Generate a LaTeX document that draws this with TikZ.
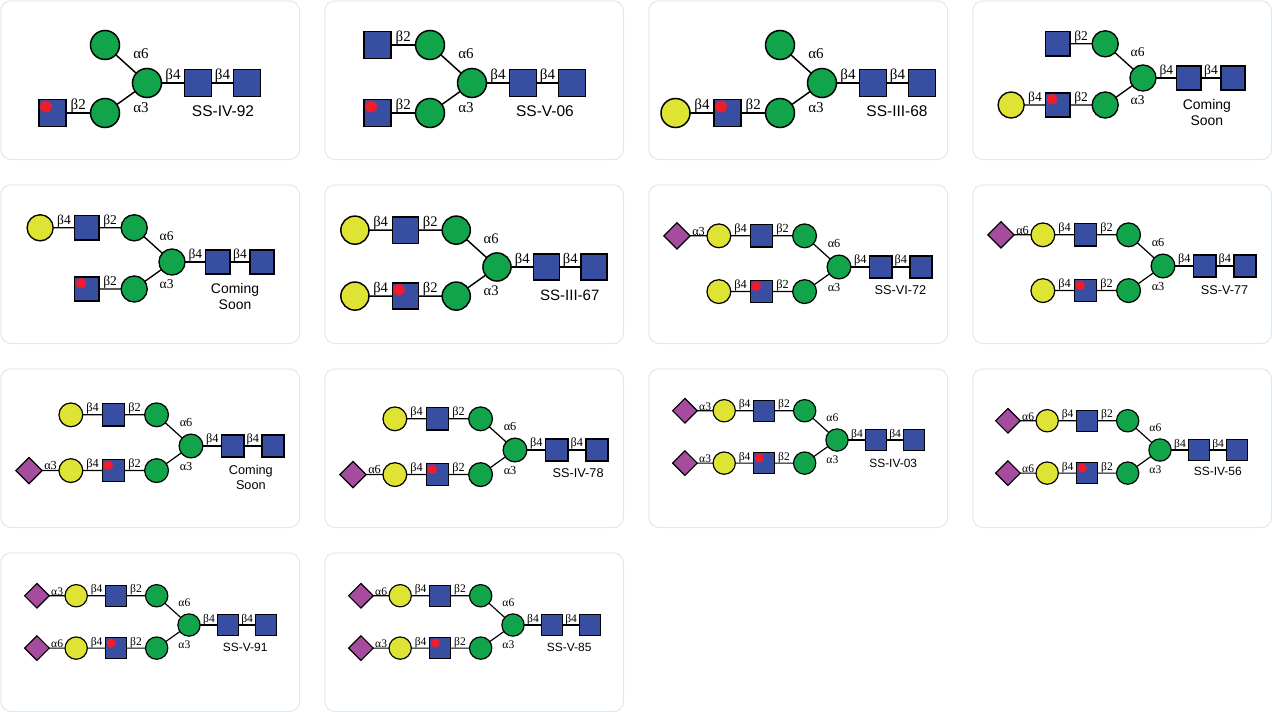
\documentclass[tikz,border=0pt]{standalone}
\usepackage{fontspec}
\setmainfont{Liberation Sans}
\newfontfamily\bondfont{Liberation Serif}
\usetikzlibrary{positioning, shapes.geometric}
\definecolor{mancol}{HTML}{11A44B}
\definecolor{nagcol}{HTML}{384EA0}
\definecolor{galcol}{HTML}{DFE333}
\definecolor{siacol}{HTML}{A54C9E}
\definecolor{dotcol}{HTML}{ED1C2E}
\definecolor{cardcol}{HTML}{E4E7EA}
\tikzset{
  card/.style = {draw=cardcol, line width=1pt, fill=white, rounded corners=10pt,
    minimum width=298.6pt, minimum height=158.6pt, anchor=north west, inner sep=0pt},
  sugar/.style = {inner sep=0pt, outer sep=0pt, draw=black},
  man/.style = {sugar, circle, fill=mancol, minimum size=29pt},
  gal/.style = {sugar, circle, fill=galcol, minimum size=29pt},
  nag/.style = {sugar, rectangle, fill=nagcol, minimum size=27pt},
  sia/.style = {sugar, diamond, fill=siacol, minimum size=32pt},
  reddot/.style = {circle, fill=dotcol, inner sep=0pt, minimum size=12pt},
  bondlab/.style = {inner sep=0pt, font=\bondfont\fontsize{15}{15}\selectfont},
  flatlab/.style = {bondlab, above=0pt},
  idtag/.style = {inner sep=0pt, align=center, font=\fontsize{15.5}{17.8}\selectfont},
  glycan/.style n args = {4}{shift={(#2,#3)}, scale=#4, transform shape,
    name prefix=#1, on grid, line width=#4*1.5pt}
}
\newcommand{\coreunit}{
  \node[man] (c) at (0,0) {};
  \node[nag, right=51pt of c] (r1) {};
  \node[nag, right=49pt of r1] (r2) {};
  \node[man] (um) at (-42,-38) {};
  \node[man] (lm) at (-42,30) {};
  \node[nag, left=52.5pt of lm] (ln) {};
  \node[reddot, above left=6.5pt and 6.5pt of ln] (ld) {};
  \draw (c) -- node[flatlab] (lr1) {β4} (r1);
  \draw (r1) -- node[flatlab] (lr2) {β4} (r2);
  \draw (um) -- node[bondlab, xshift=15pt, yshift=10pt] (lum) {α6} (c);
  \draw (lm) -- node[bondlab, xshift=15pt, yshift=-10pt] (llm) {α3} (c);
  \draw (lm) -- node[flatlab] (lln) {β2} (ln);
}
\newcommand{\addnag}[2]{
  \node[nag, left=52.5pt of #1] (#2) {};
  \draw (#1) -- node[flatlab] (l#2) {β2} (#2);
}
\newcommand{\addgal}[2]{
  \node[gal, left=52pt of #1] (#2) {};
  \draw (#1) -- node[flatlab] (l#2) {β4} (#2);
}
\newcommand{\addsia}[3]{
  \node[sia, left=51pt of #1] (#2) {};
  \draw (#1) -- node[flatlab] (l#2) {#3} (#2);
}
\begin{document}
\begin{tikzpicture}[x=1pt, y=-1pt]
\useasboundingbox (0,0) rectangle (1272,712);
\foreach \px/\py [count=\k] in {0/0, 324/0, 648/0, 972/0, 0/184, 324/184, 648/184, 972/184,
    0/368, 324/368, 648/368, 972/368, 0/552, 324/552}
  \node[card] (card\k) at (\px+0.4,\py+0.4) {};

\begin{scope}[glycan={a}{147}{83}{1}]
  \coreunit
  \node[idtag] (tag) at (76,28) {SS-IV-92};
\end{scope}

\begin{scope}[glycan={b}{472}{83}{1}]
  \coreunit
  \addnag{um}{un}
  \node[idtag] (tag) at (73,28) {SS-V-06};
\end{scope}

\begin{scope}[glycan={d}{822}{83}{1}]
  \coreunit
  \addgal{ln}{lg}
  \node[idtag] (tag) at (75,28) {SS-III-68};
\end{scope}

\begin{scope}[glycan={e}{1143}{78}{.9}]
  \coreunit
  \addnag{um}{un}
  \addgal{ln}{lg}
  \node[idtag] (tag) at (71,38) {Coming\\Soon};
\end{scope}

\begin{scope}[glycan={f}{172}{262}{.9}]
  \coreunit
  \addnag{um}{un}
  \addgal{un}{ug}
  \node[idtag] (tag) at (70,38) {Coming\\Soon};
\end{scope}

\begin{scope}[glycan={g}{497}{267}{.97}]
  \coreunit
  \addnag{um}{un}
  \addgal{un}{ug}
  \addgal{ln}{lg}
  \node[idtag] (tag) at (75,29) {SS-III-67};
\end{scope}

\begin{scope}[glycan={h}{839}{267}{.82}]
  \coreunit
  \addnag{um}{un}
  \addgal{un}{ug}
  \addsia{ug}{us}{α3}
  \addgal{ln}{lg}
  \node[idtag] (tag) at (75,28) {SS-VI-72};
\end{scope}

\begin{scope}[glycan={i}{1163}{266}{.82}]
  \coreunit
  \addnag{um}{un}
  \addgal{un}{ug}
  \addsia{ug}{us}{α6}
  \addgal{ln}{lg}
  \node[idtag] (tag) at (75,29) {SS-V-77};
\end{scope}

\begin{scope}[glycan={j}{191}{446}{.82}]
  \coreunit
  \addnag{um}{un}
  \addgal{un}{ug}
  \addgal{ln}{lg}
  \addsia{lg}{ls}{α3}
  \node[idtag] (tag) at (73,38) {Coming\\Soon};
\end{scope}

\begin{scope}[glycan={k}{515}{450}{.82}]
  \coreunit
  \addnag{um}{un}
  \addgal{un}{ug}
  \addgal{ln}{lg}
  \addsia{lg}{ls}{α6}
  \node[idtag] (tag) at (77,28) {SS-IV-78};
\end{scope}

\begin{scope}[glycan={m}{837}{440}{.77}]
  \coreunit
  \addnag{um}{un}
  \addgal{un}{ug}
  \addsia{ug}{us}{α3}
  \addgal{ln}{lg}
  \addsia{lg}{ls}{α3}
  \node[idtag] (tag) at (73,30) {SS-IV-03};
\end{scope}

\begin{scope}[glycan={n}{1160}{450}{.77}]
  \coreunit
  \addnag{um}{un}
  \addgal{un}{ug}
  \addsia{ug}{us}{α6}
  \addgal{ln}{lg}
  \addsia{lg}{ls}{α6}
  \node[idtag] (tag) at (75,28) {SS-IV-56};
\end{scope}

\begin{scope}[glycan={o}{189}{625}{.77}]
  \coreunit
  \addnag{um}{un}
  \addgal{un}{ug}
  \addsia{ug}{us}{α3}
  \addgal{ln}{lg}
  \addsia{lg}{ls}{α6}
  \node[idtag] (tag) at (73,28.5) {SS-V-91};
\end{scope}

\begin{scope}[glycan={p}{513}{625}{.77}]
  \coreunit
  \addnag{um}{un}
  \addgal{un}{ug}
  \addsia{ug}{us}{α6}
  \addgal{ln}{lg}
  \addsia{lg}{ls}{α3}
  \node[idtag] (tag) at (73,28.5) {SS-V-85};
\end{scope}
\end{tikzpicture}
\end{document}
